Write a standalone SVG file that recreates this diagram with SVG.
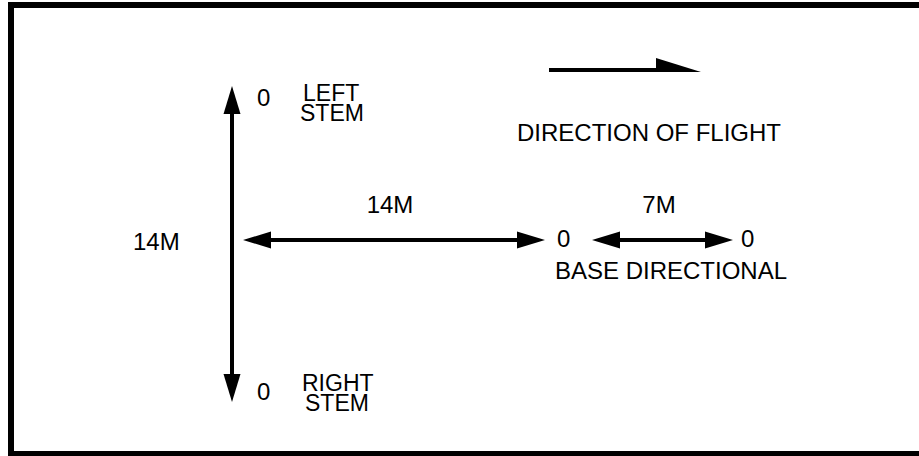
<svg xmlns="http://www.w3.org/2000/svg" width="919" height="456" viewBox="0 0 919 456">
<style>
text{font-family:"Liberation Sans",Arial,sans-serif;font-size:24px;fill:#000}
text.s{font-size:23px}
.ln{stroke:#000;stroke-width:4;fill:none}
.hd{fill:#000}
</style>
<rect width="919" height="456" fill="#fff"/>
<g id="frame">
<path d="M11 456 V5 H919" stroke="#000" stroke-width="6" fill="none"/>
<line x1="8" y1="453.5" x2="919" y2="453.5" stroke="#000" stroke-width="5"/>
</g>
<g id="connectors">
<line class="ln" x1="232" y1="112" x2="232" y2="376"/>
<polygon class="hd" points="232,86 223.5,114 240.5,114"/>
<polygon class="hd" points="232,402 223.5,374 240.5,374"/>
<line class="ln" x1="268" y1="240" x2="520" y2="240"/>
<polygon class="hd" points="243,240 271,231.5 271,248.5"/>
<polygon class="hd" points="545,240 517,231.5 517,248.5"/>
<line class="ln" x1="615" y1="240" x2="710" y2="240"/>
<polygon class="hd" points="592,240 620,231.5 620,248.5"/>
<polygon class="hd" points="733,240 705,231.5 705,248.5"/>
<line class="ln" x1="549" y1="70" x2="660" y2="70"/>
<polygon class="hd" points="656,58 701,72 656,72"/>
</g>
<g id="left-stem"><text x="257" y="106">0</text><text class="s" x="303" y="101">LEFT</text><text class="s" x="300" y="121">STEM</text></g>
<g id="right-stem"><text x="257" y="400">0</text><text class="s" x="302" y="391">RIGHT</text><text class="s" x="305" y="411">STEM</text></g>
<g id="label-14m-v"><text x="133" y="250">14M</text></g>
<g id="label-14m-h"><text x="390" y="213" text-anchor="middle">14M</text></g>
<g id="base-directional"><text x="557" y="247">0</text><text x="741" y="247">0</text><text x="659" y="213" text-anchor="middle">7M</text><text x="555" y="279">BASE DIRECTIONAL</text></g>
<g id="direction"><text x="517" y="141">DIRECTION OF FLIGHT</text></g>
</svg>
